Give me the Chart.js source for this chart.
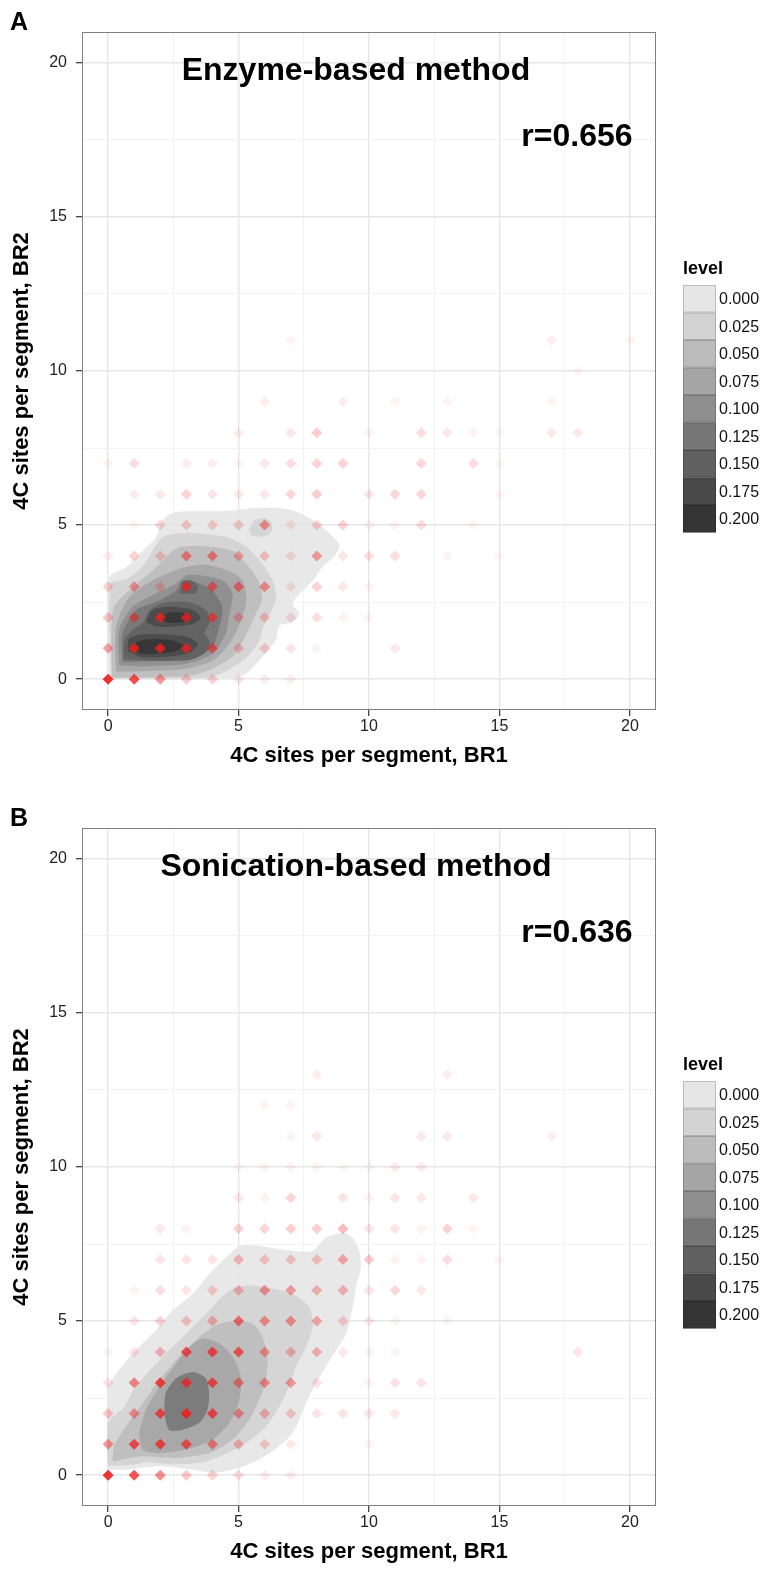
<!DOCTYPE html>
<html>
<head>
<meta charset="utf-8">
<script src="https://cdn.jsdelivr.net/npm/chart.js@4.4.1/dist/chart.umd.min.js"></script>
<style>
  html, body { margin: 0; padding: 0; background: #fff; }
  body { width: 768px; height: 1576px; position: relative; overflow: hidden; }
  canvas { position: absolute; left: 0; }
  #chartA { top: 0; }
  #chartB { top: 796px; }
</style>
</head>
<body>
<canvas id="chartA" width="768" height="780"></canvas>
<canvas id="chartB" width="768" height="780"></canvas>
<script>
// axis ticks (major labelled, minor only grid)
const majorTicks = [0, 5, 10, 15, 20];
const gridTicks = [0, 2.5, 5, 7.5, 10, 12.5, 15, 17.5, 20];

// density legend
const levelLabels = ['0.000', '0.025', '0.050', '0.075', '0.100', '0.125', '0.150', '0.175', '0.200'];
const levelColors = ['#e6e6e6', '#d3d3d3', '#bcbcbc', '#a5a5a5', '#8e8e8e', '#777777', '#606060', '#494949', '#353535'];

// points: [BR1, BR2, opacity]
const enzymePoints = [
  [0,0,.9],[1,0,.78],[2,0,.45],[3,0,.22],[4,0,.2],[5,0,.1],[6,0,.08],[7,0,.08],
  [0,1,.4],[1,1,.85],[2,1,.85],[3,1,.8],[4,1,.6],[5,1,.25],[6,1,.2],[7,1,.12],[8,1,.06],[11,1,.1],
  [0,2,.25],[1,2,.55],[2,2,.85],[3,2,.8],[4,2,.65],[5,2,.3],[6,2,.22],[7,2,.12],[8,2,.15],[9,2,.06],[10,2,.05],
  [0,3,.2],[1,3,.4],[2,3,.25],[3,3,.8],[4,3,.55],[5,3,.55],[6,3,.45],[7,3,.12],[8,3,.2],[9,3,.1],[10,3,.06],
  [0,4,.08],[1,4,.2],[2,4,.22],[3,4,.5],[4,4,.5],[5,4,.35],[6,4,.25],[7,4,.12],[8,4,.4],[9,4,.12],[10,4,.15],[11,4,.15],[13,4,.05],[15,4,.05],
  [1,5,.05],[2,5,.18],[3,5,.22],[4,5,.2],[5,5,.22],[6,5,.45],[7,5,.1],[8,5,.2],[9,5,.2],[10,5,.06],[11,5,.06],[12,5,.15],[14,5,.05],
  [1,6,.08],[2,6,.1],[3,6,.2],[4,6,.12],[5,6,.1],[6,6,.1],[7,6,.18],[8,6,.22],[10,6,.12],[11,6,.18],[12,6,.18],[15,6,.05],
  [0,7,.06],[1,7,.15],[3,7,.08],[4,7,.08],[5,7,.05],[6,7,.1],[7,7,.15],[8,7,.2],[9,7,.2],[12,7,.18],[14,7,.15],[15,7,.05],
  [5,8,.08],[7,8,.1],[8,8,.22],[10,8,.06],[12,8,.15],[13,8,.1],[14,8,.06],[15,8,.05],[17,8,.1],[18,8,.1],
  [6,9,.08],[9,9,.08],[11,9,.06],[13,9,.06],[17,9,.06],
  [18,10,.05],
  [7,11,.06],[17,11,.08],[20,11,.05]
];

const sonicPoints = [
  [0,0,.9],[1,0,.75],[2,0,.5],[3,0,.25],[4,0,.2],[5,0,.15],[6,0,.08],[7,0,.08],
  [0,1,.45],[1,1,.75],[2,1,.78],[3,1,.7],[4,1,.5],[5,1,.3],[6,1,.2],[7,1,.1],[10,1,.05],
  [0,2,.25],[1,2,.45],[2,2,.75],[3,2,.9],[4,2,.75],[5,2,.45],[6,2,.3],[7,2,.22],[8,2,.12],[9,2,.12],[10,2,.12],[11,2,.1],
  [0,3,.12],[1,3,.5],[2,3,.8],[3,3,.8],[4,3,.75],[5,3,.5],[6,3,.45],[7,3,.4],[8,3,.12],[10,3,.05],[11,3,.12],[12,3,.12],
  [0,4,.06],[1,4,.12],[2,4,.3],[3,4,.75],[4,4,.75],[5,4,.7],[6,4,.4],[7,4,.3],[8,4,.3],[9,4,.1],[10,4,.05],[11,4,.06],[18,4,.12],
  [1,5,.12],[2,5,.2],[3,5,.25],[4,5,.3],[5,5,.6],[6,5,.45],[7,5,.45],[8,5,.35],[9,5,.2],[10,5,.1],[11,5,.05],[13,5,.05],
  [1,6,.06],[2,6,.15],[3,6,.12],[4,6,.2],[5,6,.3],[6,6,.45],[7,6,.4],[8,6,.3],[9,6,.3],[10,6,.12],[11,6,.18],[12,6,.1],
  [2,7,.12],[3,7,.12],[4,7,.12],[5,7,.28],[6,7,.22],[7,7,.22],[8,7,.25],[9,7,.35],[10,7,.25],[11,7,.06],[12,7,.06],[13,7,.15],[15,7,.05],
  [2,8,.1],[3,8,.06],[5,8,.2],[6,8,.2],[7,8,.22],[8,8,.22],[9,8,.3],[10,8,.12],[11,8,.12],[12,8,.06],[13,8,.2],[14,8,.06],
  [5,9,.1],[6,9,.06],[7,9,.18],[9,9,.12],[10,9,.06],[11,9,.12],[12,9,.1],[14,9,.1],
  [5,10,.05],[6,10,.06],[7,10,.06],[8,10,.05],[9,10,.05],[10,10,.05],[11,10,.1],[12,10,.1],
  [7,11,.06],[8,11,.1],[12,11,.1],[13,11,.1],[17,11,.08],
  [6,12,.06],[7,12,.06],
  [8,13,.08],[13,13,.08]
];

// density contour outlines: [level index, polygon]
const enzymeContours = [
  [0, [[0.04,0],[0.04,3.3],[0.68,3.62],[1.32,4.16],[1.83,4.59],[2.08,5.13],[2.47,5.4],[3.24,5.45],[4.26,5.45],[5.03,5.5],[5.79,5.56],[6.56,5.56],[7.33,5.4],[8.09,5.02],[8.86,4.38],[8.73,4.05],[8.2,3.62],[7.84,3.19],[7.33,2.76],[7.07,2.44],[7.33,2.12],[7.07,1.85],[6.56,1.74],[6.43,1.26],[5.79,0.61],[5.28,0.18],[4.51,0],[0.04,0]]],
  [1, [[0.1,0.02],[0.1,3.1],[0.7,3.25],[1.3,3.65],[1.8,4.3],[2.1,4.62],[2.9,4.75],[3.8,4.7],[4.6,4.6],[5.3,4.3],[5.9,3.75],[6.3,3.2],[6.45,2.65],[6.2,2.1],[5.95,1.7],[5.8,1.25],[5.3,0.7],[4.5,0.25],[3.7,0.05],[0.1,0.02]]],
  [1, [[5.4,4.85],[5.6,5.15],[6.0,5.22],[6.3,5.02],[6.2,4.72],[5.8,4.62],[5.5,4.68],[5.4,4.85]]],
  [2, [[0.15,0.04],[0.2,2.3],[0.9,2.95],[1.8,3.6],[2.45,4.15],[2.8,4.3],[3.9,4.3],[4.8,4.15],[5.3,3.75],[5.75,3.2],[5.9,2.6],[5.6,2.0],[5.3,1.45],[4.8,0.75],[3.9,0.3],[3.0,0.1],[0.15,0.04]]],
  [3, [[0.3,0.25],[0.3,1.7],[0.8,2.65],[1.7,3.2],[2.35,3.45],[2.85,3.62],[3.75,3.72],[4.65,3.5],[5.15,3.2],[5.3,2.55],[5.05,1.8],[4.65,1.15],[4.0,0.6],[2.85,0.32],[0.9,0.25],[0.3,0.25]]],
  [4, [[0.42,0.45],[0.42,1.6],[0.93,2.35],[1.83,2.78],[2.6,3.1],[3.0,3.37],[3.5,3.37],[4.4,3.2],[4.77,2.77],[4.65,2.1],[4.5,1.47],[4.0,0.83],[3.0,0.5],[1.3,0.42],[0.42,0.45]]],
  [5, [[0.55,0.55],[0.55,1.47],[1.06,2.23],[1.96,2.55],[2.6,2.87],[2.85,3.2],[3.35,3.15],[4.0,2.87],[4.39,2.33],[4.26,1.69],[4.0,1.04],[3.24,0.67],[1.57,0.58],[0.55,0.55]]],
  [6, [[0.6,0.65],[0.62,1.25],[0.95,1.6],[1.35,1.85],[1.55,2.2],[2.0,2.45],[2.7,2.52],[3.3,2.45],[3.8,2.2],[3.9,1.85],[3.7,1.5],[3.9,1.2],[3.7,0.85],[3.1,0.62],[1.8,0.6],[0.6,0.65]]],
  [6, [[2.75,2.8],[2.85,3.15],[3.2,3.2],[3.45,3.0],[3.3,2.78],[2.75,2.8]]],
  [7, [[0.75,0.9],[0.8,1.3],[1.3,1.45],[2.2,1.45],[3.0,1.38],[3.45,1.15],[3.1,0.85],[2.2,0.72],[1.3,0.72],[0.75,0.9]]],
  [7, [[1.45,1.85],[1.7,2.25],[2.4,2.35],[3.2,2.25],[3.55,2.0],[3.2,1.78],[2.4,1.7],[1.8,1.72],[1.45,1.85]]],
  [8, [[0.95,0.97],[1.1,1.2],[1.7,1.3],[2.5,1.25],[2.9,1.08],[2.5,0.88],[1.7,0.82],[1.2,0.85],[0.95,0.97]]],
  [8, [[2.0,1.95],[2.3,2.15],[2.9,2.15],[3.2,2.0],[2.9,1.85],[2.3,1.83],[2.0,1.95]]]
];

const sonicContours = [
  [0, [[0,0.18],[0,2.82],[0.42,3.41],[1.06,4.05],[1.83,4.7],[2.47,5.34],[3.24,5.88],[3.87,6.53],[4.51,7.06],[5.03,7.44],[5.79,7.44],[7.07,7.28],[7.84,7.28],[8.35,7.71],[8.99,7.87],[9.37,7.71],[9.63,7.28],[9.69,6.74],[9.5,6.1],[9.37,5.45],[9.12,4.59],[8.73,4.05],[8.35,3.52],[7.97,2.98],[7.58,2.33],[7.33,1.8],[7.07,1.37],[6.56,0.94],[5.79,0.51],[5.03,0.24],[4.13,0.08],[3.24,0.18],[1.96,0.29],[0.68,0.18],[0,0.18]]],
  [1, [[0,0.3],[0,1.69],[0.6,2.2],[1.06,2.87],[1.96,3.73],[2.98,4.59],[3.87,5.34],[4.64,5.99],[5.28,6.15],[6.05,6.1],[7.07,5.88],[7.71,5.45],[7.84,4.81],[7.58,4.16],[7.2,3.52],[6.94,2.87],[6.56,2.23],[6.05,1.58],[5.28,1.04],[4.26,0.6],[3.5,0.4],[2.47,0.35],[1.5,0.42],[0.8,0.32],[0,0.3]]],
  [2, [[0.17,0.45],[0.23,0.94],[0.68,1.58],[1.32,2.33],[1.96,3.09],[2.72,3.84],[3.49,4.48],[4.13,4.86],[4.9,5.02],[5.54,4.91],[5.92,4.48],[6.11,3.84],[6.05,3.09],[5.79,2.44],[5.41,1.8],[4.77,1.15],[3.87,0.72],[2.6,0.56],[1.19,0.61],[0.17,0.45]]],
  [3, [[1.19,1.37],[1.45,2.12],[1.96,2.87],[2.6,3.62],[3.11,4.16],[3.62,4.43],[4.26,4.27],[4.77,3.84],[5.09,3.19],[5.03,2.44],[4.64,1.69],[4.0,1.15],[2.98,0.83],[1.96,0.72],[1.32,0.83],[1.19,1.37]]],
  [5, [[2.15,2.01],[2.21,2.66],[2.6,3.14],[3.24,3.35],[3.75,3.14],[3.87,2.66],[3.81,2.12],[3.49,1.69],[2.85,1.47],[2.34,1.47],[2.15,2.01]]]
];

// annotation anchors in data units
const titlePos = [9.5, 19.45];
const rPos = [20.1, 17.3];

const FONT = '"Liberation Sans", Arial, Helvetica, sans-serif';

function rgba(hex, a) {
  const n = parseInt(hex.slice(1), 16);
  return 'rgba(' + (n >> 16) + ',' + ((n >> 8) & 255) + ',' + (n & 255) + ',' + a + ')';
}

const isMajor = v => majorTicks.includes(v);

const panelDecor = {
  id: 'panelDecor',
  afterDatasetsDraw(chart, args, opts) {
    const {ctx, chartArea: a, scales: {x, y}} = chart;
    ctx.save();
    ctx.strokeStyle = '#7f7f7f';
    ctx.lineWidth = 1;
    ctx.strokeRect(a.left + 0.5, a.top + 0.5, a.right - a.left - 1, a.bottom - a.top - 1);

    ctx.fillStyle = '#000';
    ctx.font = 'bold 32px ' + FONT;
    ctx.textBaseline = 'alphabetic';
    ctx.textAlign = 'center';
    ctx.fillText(opts.title, x.getPixelForValue(titlePos[0]), y.getPixelForValue(titlePos[1]));
    ctx.textAlign = 'right';
    ctx.fillText(opts.r, x.getPixelForValue(rPos[0]), y.getPixelForValue(rPos[1]));

    ctx.textAlign = 'left';
    ctx.font = 'bold 25px ' + FONT;
    ctx.fillText(opts.letter, 10, 30);

    // level legend
    const lx = 683, kw = 33, kh = 27.5, top = 285;
    ctx.font = 'bold 18px ' + FONT;
    ctx.fillText('level', lx, 274);
    ctx.font = '16px ' + FONT;
    ctx.textBaseline = 'middle';
    levelLabels.forEach((lab, i) => {
      const ky = top + i * kh;
      ctx.fillStyle = levelColors[i];
      ctx.fillRect(lx, ky, kw, kh);
      ctx.strokeStyle = 'rgba(0,0,0,0.18)';
      ctx.strokeRect(lx + 0.5, ky + 0.5, kw - 1, kh - 1);
      ctx.fillStyle = '#111';
      ctx.fillText(lab, lx + kw + 3, ky + kh / 2 + 1);
    });
    ctx.restore();
  }
};

function axis(title, isX) {
  return {
    type: 'linear',
    min: -1,
    max: 21,
    afterBuildTicks: s => { s.ticks = gridTicks.map(v => ({value: v})); },
    afterFit: s => { if (isX) s.height = 70; else s.width = 82; },
    border: {display: false},
    grid: {
      color: c => isMajor(c.tick.value) ? '#e6e6e6' : '#f3f3f3',
      lineWidth: c => isMajor(c.tick.value) ? 1.4 : 1,
      tickColor: c => isMajor(c.tick.value) ? '#333' : 'rgba(0,0,0,0)',
      tickLength: 6,
      tickWidth: 1.2
    },
    ticks: {
      autoSkip: false,
      maxRotation: 0,
      minRotation: 0,
      padding: isX ? 1 : 9,
      color: '#222',
      font: {family: FONT, size: 16},
      callback: v => isMajor(v) ? String(v) : ''
    },
    title: {
      display: true,
      text: title,
      color: '#000',
      font: {family: FONT, size: 22, weight: 'bold'},
      padding: isX ? {top: 0, bottom: 11} : {top: 9, bottom: 0}
    }
  };
}

function buildChart(id, points, contours, deco) {
  const datasets = [{
    type: 'scatter',
    data: points.map(p => ({x: p[0], y: p[1]})),
    pointStyle: 'rectRot',
    pointRadius: 5.5,
    borderWidth: 0,
    backgroundColor: points.map(p => 'rgba(238,30,30,' + p[2] + ')'),
    order: 0
  }];
  contours.forEach(([lvl, poly]) => {
    datasets.push({
      type: 'line',
      data: poly.map(p => ({x: p[0], y: p[1]})),
      fill: 'shape',
      backgroundColor: rgba(levelColors[lvl], 0.9),
      borderWidth: 0,
      borderColor: 'rgba(0,0,0,0)',
      pointRadius: 0,
      tension: 0.25,
      order: 20 - lvl
    });
  });

  return new Chart(document.getElementById(id), {
    type: 'scatter',
    data: {datasets},
    options: {
      responsive: false,
      animation: false,
      events: [],
      devicePixelRatio: 1,
      layout: {padding: {top: 32, right: 112, left: 0, bottom: 0}},
      scales: {
        x: axis('4C sites per segment, BR1', true),
        y: axis('4C sites per segment, BR2', false)
      },
      plugins: {
        legend: {display: false},
        tooltip: {enabled: false},
        panelDecor: deco
      }
    },
    plugins: [panelDecor]
  });
}

buildChart('chartA', enzymePoints, enzymeContours, {letter: 'A', title: 'Enzyme-based method', r: 'r=0.656'});
buildChart('chartB', sonicPoints, sonicContours, {letter: 'B', title: 'Sonication-based method', r: 'r=0.636'});
</script>
</body>
</html>
